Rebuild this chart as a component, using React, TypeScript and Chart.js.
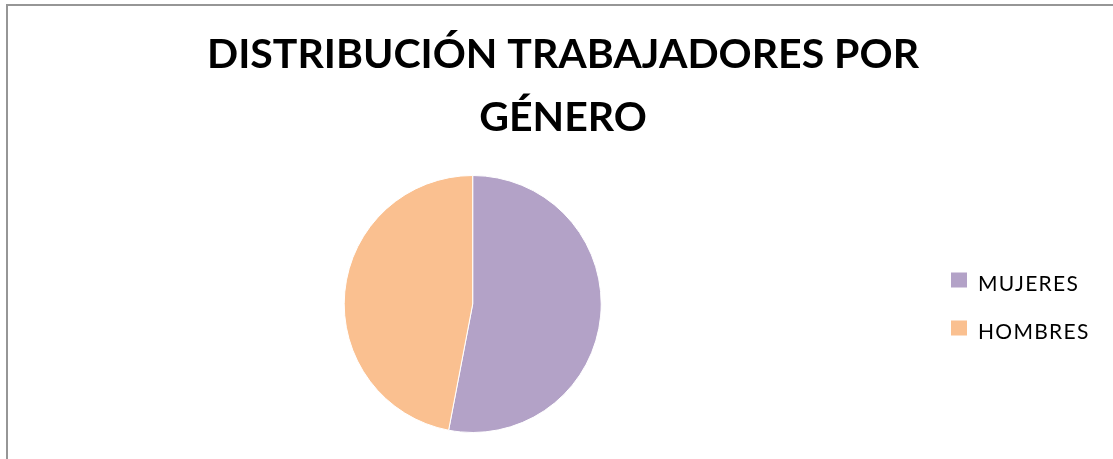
import { useEffect, useRef } from 'react';
import { Chart, registerables } from 'chart.js';

Chart.register(...registerables);

const categories = ['MUJERES', 'HOMBRES'];
const values = [53, 47];
const sliceColors = ['#B3A2C7', '#FAC090'];
const titleLines = ['DISTRIBUCIÓN TRABAJADORES POR', 'GÉNERO'];

const centeredTitle = {
  id: 'centeredTitle',
  afterDraw(chart: any, _args: any, opts: any) {
    const { ctx } = chart;
    ctx.save();
    ctx.font = opts.font;
    ctx.fillStyle = opts.color;
    ctx.textAlign = 'center';
    ctx.textBaseline = 'alphabetic';
    (opts.lines as string[]).forEach((line, i) => {
      ctx.fillText(line, chart.width / 2, opts.firstBaseline + i * opts.lineGap);
    });
    ctx.restore();
  },
};

const sideLegend = {
  id: 'sideLegend',
  afterDraw(chart: any, _args: any, opts: any) {
    const { ctx, chartArea } = chart;
    const labels: string[] = chart.data.labels;
    const bg: string[] = chart.data.datasets[0].backgroundColor;
    const cy = (chartArea.top + chartArea.bottom) / 2;
    const n = labels.length;
    ctx.save();
    ctx.font = opts.font;
    (ctx as any).letterSpacing = opts.letterSpacing;
    ctx.textBaseline = 'alphabetic';
    ctx.textAlign = 'left';
    labels.forEach((label, i) => {
      const c = cy + (i - (n - 1) / 2) * opts.gap;
      ctx.fillStyle = bg[i];
      ctx.fillRect(chartArea.right + opts.boxOffset, c - opts.boxH / 2, opts.boxW, opts.boxH);
      ctx.fillStyle = opts.color;
      ctx.fillText(label, chartArea.right + opts.textOffset, c + opts.baselineShift);
    });
    ctx.restore();
  },
};

export default function App() {
  const ref = useRef<HTMLCanvasElement | null>(null);
  useEffect(() => {
    document.documentElement.style.overflow = 'hidden';
    document.body.style.overflow = 'hidden';
    if (!ref.current) return;
    const chart = new Chart(ref.current, {
      type: 'pie',
      data: {
        labels: categories,
        datasets: [
          {
            data: values,
            backgroundColor: sliceColors,
            borderColor: '#ffffff',
            borderWidth: 1,
          },
        ],
      },
      options: {
        animation: false,
        responsive: false,
        layout: { padding: { left: 0, right: 180.6, top: 169, bottom: 26 } },
        plugins: {
          legend: { display: false },
          tooltip: { enabled: false },
          title: { display: false },
          centeredTitle: {
            lines: titleLines,
            font: 'bold 41px Lato',
            color: '#000000',
            firstBaseline: 62,
            lineGap: 62.7,
          },
          sideLegend: {
            font: '21px Lato',
            color: '#000000',
            letterSpacing: '1.3px',
            gap: 48,
            boxW: 16,
            boxH: 15,
            boxOffset: 13.6,
            textOffset: 40.6,
            baselineShift: 11,
          },
        } as any,
      },
      plugins: [centeredTitle, sideLegend],
    });
    return () => chart.destroy();
  }, []);
  return (
    <div
      style={{
        position: 'fixed',
        left: 6,
        top: 4,
        width: 1116,
        height: 470,
        border: '2px solid #969696',
        boxSizing: 'border-box',
        background: '#ffffff',
        overflow: 'hidden',
      }}
    >
      <canvas ref={ref} width={1110} height={453} style={{ display: 'block', width: 1110, height: 453 }} />
    </div>
  );
}
